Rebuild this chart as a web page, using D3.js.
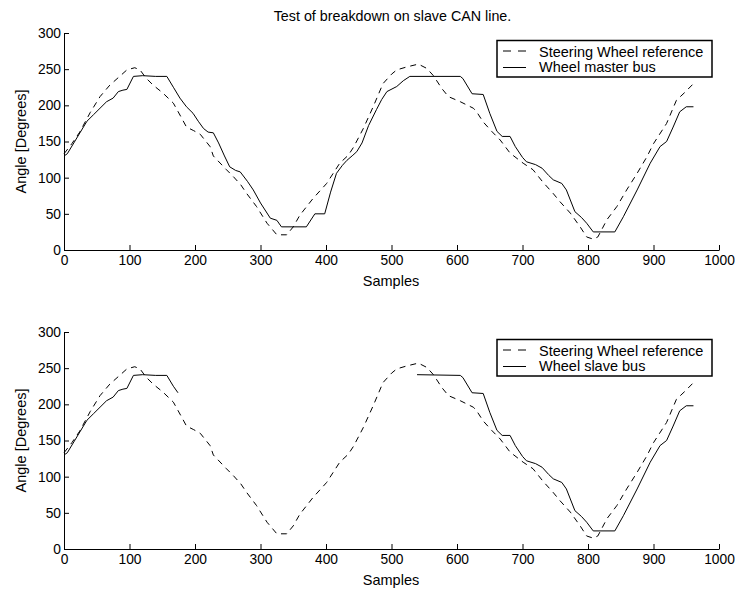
<!DOCTYPE html>
<html>
<head>
<meta charset="utf-8">
<script src="https://cdn.jsdelivr.net/npm/d3@7"></script>
<style>
  body { margin: 0; background: #fff; }
  svg text { font-family: "Liberation Sans", Arial, Helvetica, sans-serif; fill: #000; }
</style>
</head>
<body>
<svg id="chart" width="735" height="590"></svg>
<script>
// ---- data ----
var titleText = "Test of breakdown on slave CAN line.";
var xTicks = [0, 100, 200, 300, 400, 500, 600, 700, 800, 900, 1000];
var yTicks = [0, 50, 100, 150, 200, 250, 300];

var refSamples = [0, 12, 24, 40, 55, 70, 85, 96, 108, 116, 125, 136, 151, 167, 178, 187, 198, 208, 223, 228, 248, 259, 270, 279, 294, 310, 325, 340, 350, 360, 380, 401, 411, 421, 434, 442, 457, 472, 487, 500, 508, 523, 541, 554, 564, 577, 587, 605, 625, 630, 640, 653, 666, 681, 701, 716, 731, 747, 757, 773, 788, 798, 808, 815, 829, 844, 859, 875, 890, 900, 920, 935, 948, 961];
var refAngles = [133, 147, 163, 190, 212, 228, 240, 249, 252, 249, 238, 228, 217, 203, 185, 170, 165, 160, 143, 130, 111, 101, 90, 78, 60, 37, 21, 21, 32, 48, 71, 92, 106, 120, 131, 142, 168, 198, 230, 243, 249, 253, 257, 251, 241, 223, 212, 205, 196, 191, 177, 164, 152, 134, 120, 111, 94, 78, 67, 51, 32, 18, 15, 18, 42, 60, 83, 106, 129, 147, 175, 207, 218, 230];

var masterSamples = [0, 5, 15, 25, 35, 45, 55, 65, 75, 83, 90, 96, 106, 120, 140, 157, 167, 177, 187, 197, 205, 213, 220, 228, 236, 245, 253, 262, 269, 280, 289, 300, 315, 325, 332, 370, 383, 398, 407, 416, 425, 432, 441, 447, 455, 465, 477, 485, 493, 508, 518, 528, 605, 609, 623, 640, 650, 661, 669, 681, 689, 700, 706, 720, 730, 740, 747, 760, 767, 780, 790, 798, 808, 841, 854, 875, 895, 910, 920, 930, 940, 950, 961];
var masterAngles = [130, 133, 148, 163, 178, 187, 196, 205, 210, 219, 221, 222, 240, 241, 240, 240, 225, 210, 198, 189, 178, 168, 163, 162, 148, 130, 115, 110, 108, 95, 83, 65, 44, 41, 32, 32, 50, 50, 80, 106, 117, 124, 131, 136, 148, 172, 194, 208, 219, 226, 234, 240, 240, 237, 216, 215, 189, 164, 157, 157, 143, 128, 122, 118, 113, 103, 97, 92, 83, 53, 45, 37, 25, 25, 46, 83, 120, 143, 150, 170, 191, 198, 198];

// slave bus: null marks the gap where the line breaks down
var slaveSamples = [0, 5, 15, 25, 35, 45, 55, 65, 75, 83, 90, 96, 106, 120, 140, 157, 167, 174, 350, 539, 605, 609, 623, 640, 650, 661, 669, 681, 689, 700, 706, 720, 730, 740, 747, 760, 767, 780, 790, 798, 808, 841, 854, 875, 895, 910, 920, 930, 940, 950, 961];
var slaveAngles = [130, 133, 148, 163, 178, 187, 196, 205, 210, 219, 221, 222, 240, 241, 240, 240, 225, 216, null, 241, 240, 237, 216, 215, 189, 164, 157, 157, 143, 128, 122, 118, 113, 103, 97, 92, 83, 53, 45, 37, 25, 25, 46, 83, 120, 143, 150, 170, 191, 198, 198];

var refLabel = "Steering Wheel reference";
var panels = [
  { top: 33, bottom: 250, samples: masterSamples, angles: masterAngles, label: "Wheel master bus" },
  { top: 332, bottom: 549, samples: slaveSamples, angles: slaveAngles, label: "Wheel slave bus" }
];

var svg = d3.select("#chart");
var fontSize = 14.5;
var tickFont = 13.8;

svg.append("text")
  .attr("x", 392.5).attr("y", 21)
  .attr("text-anchor", "middle")
  .style("font-size", "14.3px")
  .text(titleText);

var x = d3.scaleLinear().domain([0, 1000]).range([64, 719]);

panels.forEach(function (p) {
  var y = d3.scaleLinear().domain([0, 300]).range([p.bottom, p.top]);
  var g = svg.append("g");

  var xAxis = d3.axisBottom(x).tickValues(xTicks).tickFormat(d3.format("d"))
    .tickSizeInner(-5).tickSizeOuter(0).tickPadding(5);
  var yAxis = d3.axisLeft(y).tickValues(yTicks).tickFormat(d3.format("d"))
    .tickSizeInner(-5).tickSizeOuter(0).tickPadding(3);

  var gx = g.append("g").attr("transform", "translate(0," + p.bottom + ")").call(xAxis);
  var gy = g.append("g").attr("transform", "translate(64,0)").call(yAxis);
  [gx, gy].forEach(function (a) {
    a.selectAll("text").style("font-size", tickFont + "px").style("font-family", "Liberation Sans, Arial, sans-serif");
    a.selectAll("path, line").attr("stroke", "#000").attr("stroke-width", 1);
  });

  g.append("text")
    .attr("x", 391).attr("y", p.bottom + 36)
    .attr("text-anchor", "middle")
    .style("font-size", fontSize + "px")
    .text("Samples");

  g.append("text")
    .attr("transform", "translate(26," + ((p.top + p.bottom) / 2) + ") rotate(-90)")
    .attr("text-anchor", "middle")
    .style("font-size", fontSize + "px")
    .text("Angle [Degrees]");

  var line = d3.line()
    .defined(function (d) { return d[1] !== null; })
    .x(function (d) { return x(d[0]); })
    .y(function (d) { return y(d[1]); });

  var refData = refSamples.map(function (s, i) { return [s, refAngles[i]]; });
  var busData = p.samples.map(function (s, i) { return [s, p.angles[i]]; });

  g.append("path").datum(busData)
    .attr("d", line).attr("fill", "none").attr("stroke", "#000").attr("stroke-width", 1);
  g.append("path").datum(refData)
    .attr("d", line).attr("fill", "none").attr("stroke", "#000").attr("stroke-width", 1)
    .attr("stroke-dasharray", "6,5");

  // legend
  var lg = g.append("g").attr("transform", "translate(497," + (p.top + 7.5) + ")");
  lg.append("rect").attr("width", 215).attr("height", 36.5)
    .attr("fill", "#fff").attr("stroke", "#000").attr("stroke-width", 1.5);
  lg.append("line").attr("x1", 6).attr("x2", 29).attr("y1", 10.5).attr("y2", 10.5)
    .attr("stroke", "#000").attr("stroke-dasharray", "8,7");
  lg.append("line").attr("x1", 6).attr("x2", 29).attr("y1", 27).attr("y2", 27)
    .attr("stroke", "#000");
  lg.append("text").attr("x", 42).attr("y", 16).style("font-size", fontSize + "px").text(refLabel);
  lg.append("text").attr("x", 42).attr("y", 31.5).style("font-size", fontSize + "px").text(p.label);
});
</script>
</body>
</html>
